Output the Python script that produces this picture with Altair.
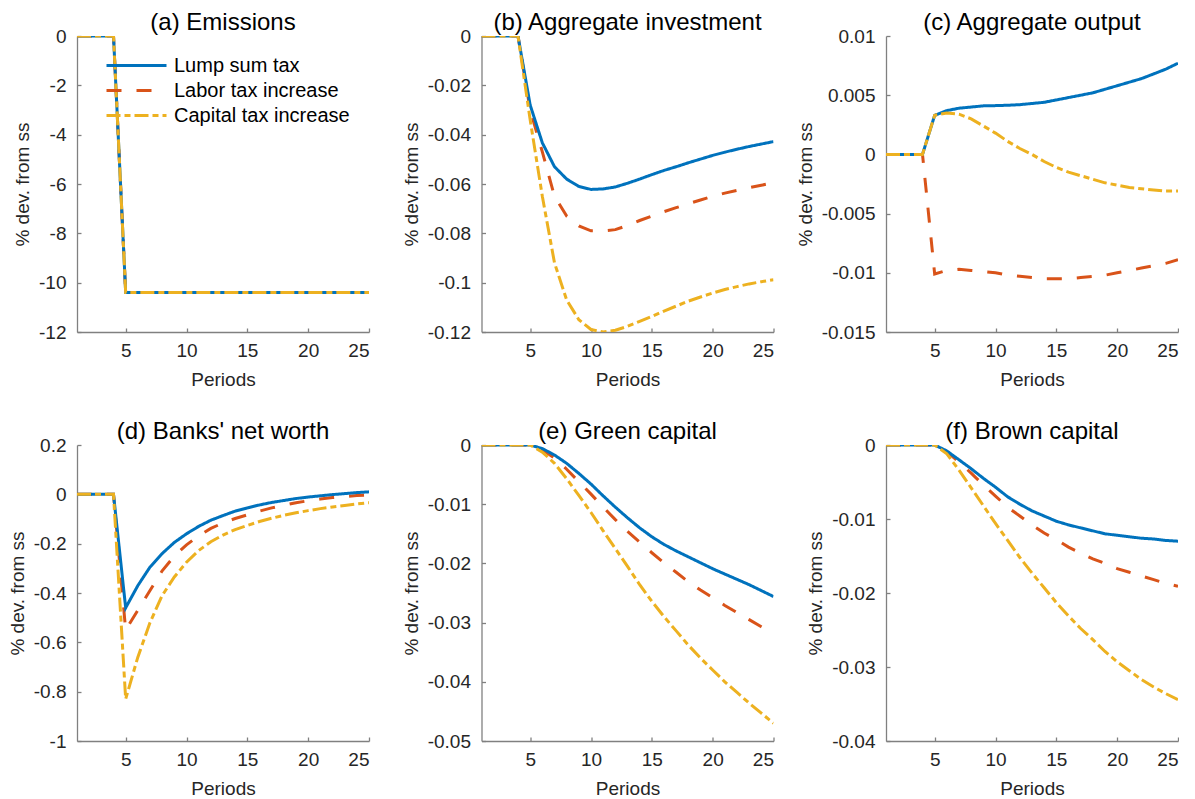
import altair as alt
import pandas as pd

periods = [1, 2, 3, 4, 5, 6, 7, 8, 9, 10, 11, 12, 13, 14, 15, 16, 17, 18, 19, 20, 21, 22, 23, 24, 25]
series_names = ["Lump sum tax", "Labor tax increase", "Capital tax increase"]
series_colors = ["#0072BD", "#D95319", "#EDB120"]
series_dashes = [[1, 0], [15, 15], [14, 4, 6, 4]]
draw_order = ["Labor tax increase", "Lump sum tax", "Capital tax increase"]

x_ticks = [5, 10, 15, 20, 25]

# (a) Emissions
emis_lump = [0, 0, 0, 0, -10.4, -10.4, -10.4, -10.4, -10.4, -10.4, -10.4, -10.4, -10.4, -10.4, -10.4, -10.4, -10.4, -10.4, -10.4, -10.4, -10.4, -10.4, -10.4, -10.4, -10.4]
emis_labor = [0, 0, 0, 0, -10.4, -10.4, -10.4, -10.4, -10.4, -10.4, -10.4, -10.4, -10.4, -10.4, -10.4, -10.4, -10.4, -10.4, -10.4, -10.4, -10.4, -10.4, -10.4, -10.4, -10.4]
emis_capital = [0, 0, 0, 0, -10.4, -10.4, -10.4, -10.4, -10.4, -10.4, -10.4, -10.4, -10.4, -10.4, -10.4, -10.4, -10.4, -10.4, -10.4, -10.4, -10.4, -10.4, -10.4, -10.4, -10.4]
emis_ticks = [-12, -10, -8, -6, -4, -2, 0]

# (b) Aggregate investment
inv_lump = [0, 0, 0, 0, -0.028, -0.0433, -0.053, -0.058, -0.061, -0.0622, -0.062, -0.0612, -0.0597, -0.058, -0.0562, -0.0545, -0.053, -0.0514, -0.0499, -0.0484, -0.0471, -0.0459, -0.0448, -0.0438, -0.0428]
inv_labor = [0, 0, 0, 0, -0.030, -0.047, -0.065, -0.073, -0.077, -0.079, -0.079, -0.0785, -0.0768, -0.0748, -0.073, -0.0712, -0.0696, -0.068, -0.0665, -0.065, -0.0637, -0.0626, -0.0615, -0.0605, -0.0595]
inv_capital = [0, 0, 0, 0, -0.034, -0.065, -0.092, -0.107, -0.115, -0.119, -0.12, -0.1193, -0.1177, -0.1157, -0.1137, -0.1115, -0.1095, -0.1075, -0.1058, -0.1042, -0.1028, -0.1016, -0.1005, -0.0996, -0.0988]
inv_ticks = [-0.12, -0.1, -0.08, -0.06, -0.04, -0.02, 0]

# (c) Aggregate output
out_lump = [0, 0, 0, 0, 0.0033, 0.0037, 0.0039, 0.0040, 0.0041, 0.00412, 0.00415, 0.0042, 0.0043, 0.0044, 0.0046, 0.0048, 0.0050, 0.0052, 0.0055, 0.0058, 0.0061, 0.0064, 0.0068, 0.0072, 0.0077]
out_labor = [0, 0, 0, 0, -0.0101, -0.0098, -0.0097, -0.0098, -0.0099, -0.0100, -0.0102, -0.0103, -0.0104, -0.0105, -0.0105, -0.0105, -0.0104, -0.0103, -0.0102, -0.0100, -0.0098, -0.0096, -0.0094, -0.0092, -0.0089]
out_capital = [0, 0, 0, 0, 0.0033, 0.0035, 0.0034, 0.0030, 0.0024, 0.0018, 0.0011, 0.0005, 0.0000, -0.0006, -0.0011, -0.0015, -0.0018, -0.0021, -0.0024, -0.0026, -0.0028, -0.0029, -0.0030, -0.0031, -0.0031]
out_ticks = [-0.015, -0.01, -0.005, 0, 0.005, 0.01]

# (d) Banks' net worth
nw_lump = [0, 0, 0, 0, -0.46, -0.37, -0.295, -0.24, -0.195, -0.16, -0.13, -0.105, -0.086, -0.068, -0.055, -0.043, -0.033, -0.025, -0.017, -0.011, -0.006, -0.001, 0.003, 0.007, 0.010]
nw_labor = [0, 0, 0, 0, -0.55, -0.47, -0.39, -0.31, -0.25, -0.205, -0.168, -0.138, -0.116, -0.098, -0.083, -0.068, -0.055, -0.044, -0.034, -0.026, -0.019, -0.013, -0.009, -0.005, -0.003]
nw_capital = [0, 0, 0, 0, -0.83, -0.66, -0.52, -0.41, -0.335, -0.275, -0.228, -0.192, -0.165, -0.143, -0.126, -0.110, -0.097, -0.085, -0.075, -0.066, -0.058, -0.051, -0.045, -0.039, -0.034]
nw_ticks = [-1, -0.8, -0.6, -0.4, -0.2, 0, 0.2]

# (e) Green capital
gk_lump = [0, 0, 0, 0, 0, -0.0006, -0.0017, -0.0031, -0.0048, -0.0066, -0.0086, -0.0105, -0.0123, -0.014, -0.0155, -0.0168, -0.0179, -0.0189, -0.0199, -0.0209, -0.0218, -0.0227, -0.0236, -0.0246, -0.0256]
gk_labor = [0, 0, 0, 0, 0, -0.0008, -0.0022, -0.0041, -0.0062, -0.0083, -0.0105, -0.0126, -0.0146, -0.0164, -0.0182, -0.0199, -0.0215, -0.0231, -0.0245, -0.0258, -0.0271, -0.0283, -0.0295, -0.0307, -0.0319]
gk_capital = [0, 0, 0, 0, 0, -0.0012, -0.0031, -0.0057, -0.0085, -0.0114, -0.0145, -0.0175, -0.0205, -0.0236, -0.0264, -0.029, -0.0314, -0.0338, -0.036, -0.038, -0.040, -0.0418, -0.0436, -0.0453, -0.047]
gk_ticks = [-0.05, -0.04, -0.03, -0.02, -0.01, 0]

# (f) Brown capital
bk_lump = [0, 0, 0, 0, 0, -0.0008, -0.002, -0.0032, -0.0045, -0.0057, -0.007, -0.008, -0.0089, -0.0096, -0.0103, -0.0108, -0.0112, -0.0116, -0.012, -0.0122, -0.0124, -0.0126, -0.0127, -0.0129, -0.013]
bk_labor = [0, 0, 0, 0, 0, -0.0009, -0.0023, -0.0038, -0.0054, -0.0069, -0.0084, -0.0096, -0.0108, -0.0119, -0.0128, -0.0138, -0.0146, -0.0154, -0.016, -0.0167, -0.0172, -0.0177, -0.0182, -0.0187, -0.0191]
bk_capital = [0, 0, 0, 0, 0, -0.0012, -0.0034, -0.0058, -0.0082, -0.0106, -0.0129, -0.0152, -0.0173, -0.0193, -0.0213, -0.0231, -0.0248, -0.0263, -0.0279, -0.0293, -0.0305, -0.0317, -0.0327, -0.0336, -0.0344]
bk_ticks = [-0.04, -0.03, -0.02, -0.01, 0]

FONT = "Liberation Sans"
AXIS_GRAY = "#808080"
TEXT_DARK = "#262626"


def make_panel(title, ticks, lump, labor, capital, show_legend=False):
    rows = []
    for name, vals in zip(series_names, [lump, labor, capital]):
        for t, v in zip(periods, vals):
            rows.append({"t": t, "v": v, "series": name})
    df = pd.DataFrame(rows)

    if show_legend:
        leg = alt.Legend(
            title=None, orient="none", legendX=28, legendY=17,
            symbolType="stroke", symbolSize=3600, symbolStrokeWidth=3,
            labelFontSize=20, labelFont=FONT, labelColor="black", labelLimit=0,
            labelOffset=6, clipHeight=25, rowPadding=0, padding=0,
        )
    else:
        leg = None

    xaxis = alt.Axis(
        values=x_ticks, title="Periods", grid=False,
        labelFont=FONT, labelFontSize=19, labelColor=TEXT_DARK,
        titleFont=FONT, titleFontSize=19, titleFontWeight="normal", titleColor=TEXT_DARK,
        domainColor=AXIS_GRAY, domainWidth=1.3, tickColor=AXIS_GRAY, tickWidth=1.3,
        tickSize=alt.ExprRef(expr="-4"), labelPadding=13, titlePadding=10,
    )
    yaxis = alt.Axis(
        values=ticks, title="% dev. from ss", grid=False,
        labelExpr="datum.value + ''",
        labelFont=FONT, labelFontSize=19, labelColor=TEXT_DARK,
        titleFont=FONT, titleFontSize=19, titleFontWeight="normal", titleColor=TEXT_DARK,
        domainColor=AXIS_GRAY, domainWidth=1.3, tickColor=AXIS_GRAY, tickWidth=1.3,
        tickSize=alt.ExprRef(expr="-4"), labelPadding=15, titlePadding=6,
    )

    color_scale = alt.Scale(domain=series_names, range=series_colors)
    dash_scale = alt.Scale(domain=series_names, range=series_dashes)

    layers = []
    for name in draw_order:
        layers.append(
            alt.Chart(df)
            .transform_filter(alt.datum.series == name)
            .mark_line(strokeWidth=3, clip=True)
            .encode(
                x=alt.X("t:Q", scale=alt.Scale(domain=[1, 25], nice=False, zero=False), axis=xaxis),
                y=alt.Y("v:Q", scale=alt.Scale(domain=[ticks[0], ticks[-1]], nice=False, zero=False), axis=yaxis),
                color=alt.Color("series:N", scale=color_scale, legend=leg),
                strokeDash=alt.StrokeDash("series:N", scale=dash_scale, legend=leg),
            )
        )
    return alt.layer(*layers).properties(
        width=292, height=296,
        title=alt.TitleParams(
            text=title, font=FONT, fontSize=24, fontWeight="normal",
            color="black", offset=-8, frame="group", anchor="middle",
        ),
    )


panels = [
    make_panel("(a) Emissions", emis_ticks, emis_lump, emis_labor, emis_capital, show_legend=True),
    make_panel("(b) Aggregate investment", inv_ticks, inv_lump, inv_labor, inv_capital),
    make_panel("(c) Aggregate output", out_ticks, out_lump, out_labor, out_capital),
    make_panel("(d) Banks' net worth", nw_ticks, nw_lump, nw_labor, nw_capital),
    make_panel("(e) Green capital", gk_ticks, gk_lump, gk_labor, gk_capital),
    make_panel("(f) Brown capital", bk_ticks, bk_lump, bk_labor, bk_capital),
]

chart = (
    alt.concat(*panels, columns=3, spacing=alt.RowColnumber(row=113, column=112.5), bounds="flush")
    .resolve_scale(color="independent", strokeDash="independent", x="independent", y="independent")
    .resolve_legend(color="independent", strokeDash="independent")
    .properties(padding={"top": 3, "left": 0, "right": 0, "bottom": 0}, background="white")
    .configure_view(stroke=None)
)

chart.save("out.html", embed_options={"renderer": "svg", "actions": False})
